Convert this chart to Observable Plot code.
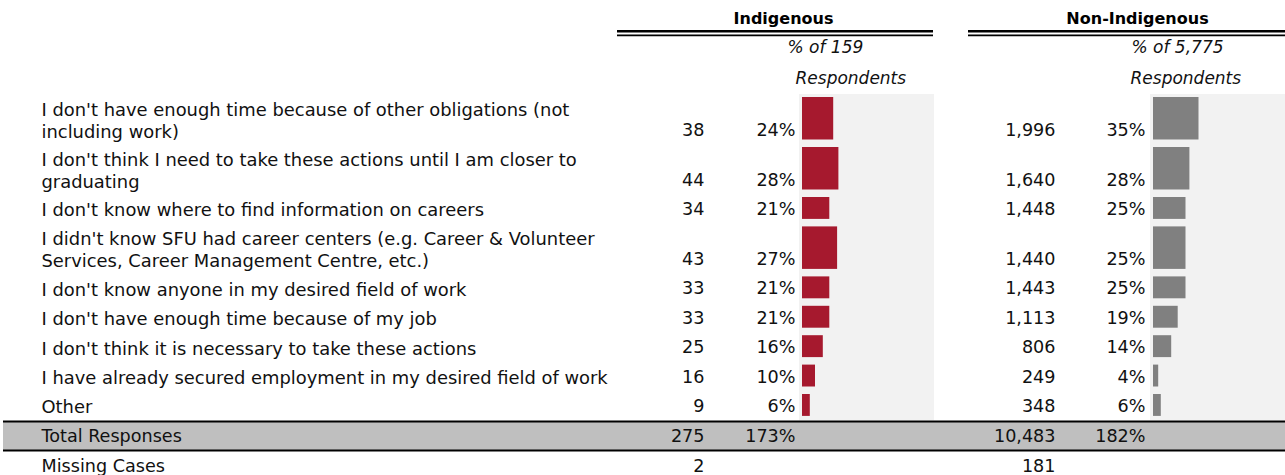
<!DOCTYPE html>
<html><head><meta charset="utf-8">
<script src="https://cdn.jsdelivr.net/npm/d3@7"></script>
<script src="https://cdn.jsdelivr.net/npm/@observablehq/plot@0.6"></script>
<style>
body{margin:0;background:#fff;}
#chart{display:flex;width:1285px;height:475px;overflow:hidden;}
#chart svg{display:block;flex:none;}
</style></head><body><div id="chart"></div>
<script>
// ---- data ----
const categories = [
  "I don't have enough time because of other obligations (not\nincluding work)",
  "I don't think I need to take these actions until I am closer to\ngraduating",
  "I don't know where to find information on careers",
  "I didn't know SFU had career centers (e.g. Career & Volunteer\nServices, Career Management Centre, etc.)",
  "I don't know anyone in my desired field of work",
  "I don't have enough time because of my job",
  "I don't think it is necessary to take these actions",
  "I have already secured employment in my desired field of work",
  "Other"
];
const groups = ["Indigenous", "Non-Indigenous"];
const respondents = [159, 5775];
const indigenousCounts = [38, 44, 34, 43, 33, 33, 25, 16, 9];
const indigenousPct = [24, 28, 21, 27, 21, 21, 16, 10, 6];
const nonIndigenousCounts = [1996, 1640, 1448, 1440, 1443, 1113, 806, 249, 348];
const nonIndigenousPct = [35, 28, 25, 25, 25, 19, 14, 4, 6];
const totalResponses = [275, 10483];
const totalPct = [173, 182];
const missingCases = [2, 181];
const summaryLabels = ["Total Responses", "Missing Cases"];

// ---- layout ----
const H = 475, TOP = 94, LINE = 20.6, PAD = 8.8, SUMROW = 29.5;
const FONT = "DejaVu Sans";
let cursor = TOP;
const rows = categories.map((label, i) => {
  const lines = label.split("\n").length;
  const top = cursor, bottom = cursor + PAD + LINE * lines;
  cursor = bottom;
  return {label, top, bottom, mid: (top + bottom) / 2, numY: bottom - 14.5,
    counts: [indigenousCounts[i], nonIndigenousCounts[i]],
    pct: [indigenousPct[i], nonIndigenousPct[i]]};
});
const panel = [{top: rows[0].top, bottom: rows[rows.length - 1].bottom}];
const totalTop = panel[0].bottom + 0.6, totalBottom = totalTop + SUMROW - 0.5;
const summary = [
  {label: summaryLabels[0], y: (totalTop + totalBottom) / 2, count: totalResponses, pct: totalPct},
  {label: summaryLabels[1], y: totalBottom + 16, count: missingCases, pct: [null, null]}
];
const fmt = d3.format(",");
const colors = ["#A6192E", "#808080"];
const ink = "#111";

const specs = [
  {width: 960, center: 783, ruleL: 617, ruleR: 960 - 933, countX: 704, pctX: 795, barRange: [802, 932],
   sub1X: 787, sub2X: 795, bandL: 3},
  {width: 325, center: 177, ruleL: 8, ruleR: 0, countX: 95, pctX: 185, barRange: [193, 323],
   sub1X: 171, sub2X: 170, bandL: 0}
];

function makePlot(g) {
  const s = specs[g];
  const textBase = {frameAnchor: "left", fill: ink, fontSize: 17.6};
  const marks = [
    // gray panel behind bars
    Plot.rect(panel, {x1: 0, x2: 100, y1: "top", y2: "bottom", fill: "#F2F2F2", insetLeft: -3, insetRight: -2}),
    // bars
    Plot.rect(rows, {x1: 0, x2: d => d.pct[g], y1: "top", y2: "bottom", fill: colors[g], insetTop: 3, insetBottom: 4.5}),
    // header
    Plot.text([groups[g]], {y: () => 18, text: d => d, frameAnchor: "left", dx: s.center, textAnchor: "middle",
      fontWeight: "bold", fontSize: 16, fill: "#000"}),
    Plot.ruleY([30.8, 34.8], {stroke: "#000", strokeWidth: (d, i) => i === 0 ? 2.4 : 1.8, insetLeft: s.ruleL, insetRight: s.ruleR}),
    Plot.text([`% of ${fmt(respondents[g])}`], {y: () => 47.5, text: d => d, ...textBase, fontSize: 17, dx: s.sub1X, textAnchor: "start", fontStyle: "italic"}),
    Plot.text(["Respondents"], {y: () => 78.5, text: d => d, ...textBase, fontSize: 17, dx: s.sub2X, textAnchor: "start", fontStyle: "italic"}),
    // counts and percentages
    Plot.text(rows, {y: "numY", text: d => fmt(d.counts[g]), ...textBase, dx: s.countX, textAnchor: "end"}),
    Plot.text(rows, {y: "numY", text: d => d.pct[g] + "%", ...textBase, dx: s.pctX, textAnchor: "end"}),
    // total row band + borders
    Plot.rect([0], {y1: () => totalTop, y2: () => totalBottom, fill: "#BFBFBF", insetLeft: s.bandL}),
    Plot.ruleY([totalTop, totalBottom], {stroke: "#000", strokeWidth: 2.2, insetLeft: s.bandL}),
    Plot.text(summary, {y: "y", text: d => fmt(d.count[g]), ...textBase, dx: s.countX, textAnchor: "end"}),
    Plot.text(summary.filter(d => d.pct[g] != null), {y: "y", text: d => d.pct[g] + "%", ...textBase, dx: s.pctX, textAnchor: "end"})
  ];
  if (g === 0) {
    marks.push(
      Plot.text(rows, {y: "mid", text: "label", ...textBase, fontSize: 17.9, dx: 41, textAnchor: "start", lineHeight: 1.24}),
      Plot.text(summary, {y: "y", text: "label", ...textBase, dx: 41, textAnchor: "start"})
    );
  }
  return Plot.plot({
    width: s.width, height: H,
    margin: 0,
    x: {domain: [0, 100], range: s.barRange, axis: null},
    y: {domain: [0, H], range: [0, H], axis: null},
    style: {fontFamily: FONT, fontSize: "17.5px", background: "transparent", color: ink, overflow: "visible"},
    marks
  });
}

const el = document.getElementById("chart");
el.append(makePlot(0), makePlot(1));
</script>
</body></html>
